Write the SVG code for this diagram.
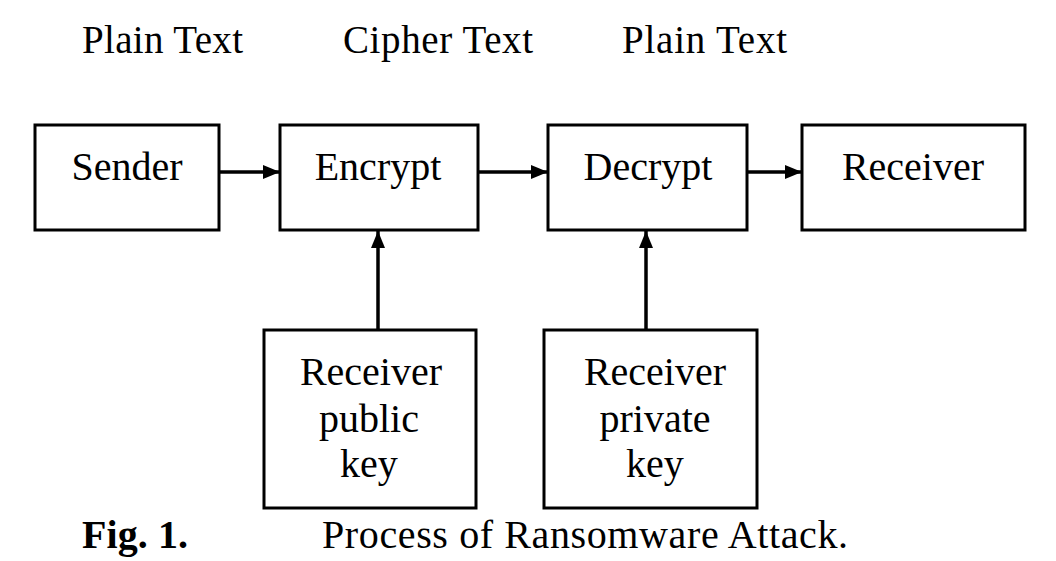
<svg xmlns="http://www.w3.org/2000/svg" width="1056" height="561" viewBox="0 0 1056 561">
<style>
text{font-family:"Liberation Serif","Times New Roman",serif;fill:#000;font-size:40px}
.lbl{font-size:39px}
.c{text-anchor:middle}
.box{fill:#fff;stroke:#000;stroke-width:3}
.ln{stroke:#000;stroke-width:3.5;fill:none}
</style>
<defs>
<marker id="ah" viewBox="0 0 17 14" refX="17" refY="7" markerWidth="17" markerHeight="14" markerUnits="userSpaceOnUse" orient="auto">
<path d="M0,0 L17,7 L0,14 z" fill="#000"/>
</marker>
</defs>
<rect width="1056" height="561" fill="#fff"/>
<g id="labels">
<text class="lbl" x="82" y="53" textLength="161">Plain Text</text>
<text class="lbl" x="343" y="53" textLength="190">Cipher Text</text>
<text class="lbl" x="622" y="53" textLength="165">Plain Text</text>
</g>
<g id="connectors">
<line class="ln" x1="219" y1="172" x2="280" y2="172" marker-end="url(#ah)"/>
<line class="ln" x1="478" y1="172" x2="548" y2="172" marker-end="url(#ah)"/>
<line class="ln" x1="747" y1="172" x2="802" y2="172" marker-end="url(#ah)"/>
<line class="ln" x1="378" y1="330" x2="378" y2="231" marker-end="url(#ah)"/>
<line class="ln" x1="646" y1="330" x2="646" y2="231" marker-end="url(#ah)"/>
</g>
<g id="sender">
<rect class="box" x="35" y="125" width="184" height="105"/>
<text class="c" x="127" y="180">Sender</text>
</g>
<g id="encrypt">
<rect class="box" x="280" y="125" width="198" height="105"/>
<text class="c" x="378" y="180">Encrypt</text>
</g>
<g id="decrypt">
<rect class="box" x="548" y="125" width="199" height="105"/>
<text class="c" x="648" y="180">Decrypt</text>
</g>
<g id="receiver">
<rect class="box" x="802" y="125" width="223" height="105"/>
<text class="c" x="913" y="180">Receiver</text>
</g>
<g id="public-key">
<rect class="box" x="264" y="330" width="212" height="178"/>
<text class="c" x="371" y="385">Receiver</text>
<text class="c" x="369" y="432">public</text>
<text class="c" x="369" y="477">key</text>
</g>
<g id="private-key">
<rect class="box" x="544" y="330" width="213" height="178"/>
<text class="c" x="655" y="385">Receiver</text>
<text class="c" x="655" y="432">private</text>
<text class="c" x="655" y="477">key</text>
</g>
<g id="caption">
<text x="82" y="548" font-weight="bold" textLength="106">Fig. 1.</text>
<text x="322" y="548" textLength="526">Process of Ransomware Attack.</text>
</g>
</svg>
